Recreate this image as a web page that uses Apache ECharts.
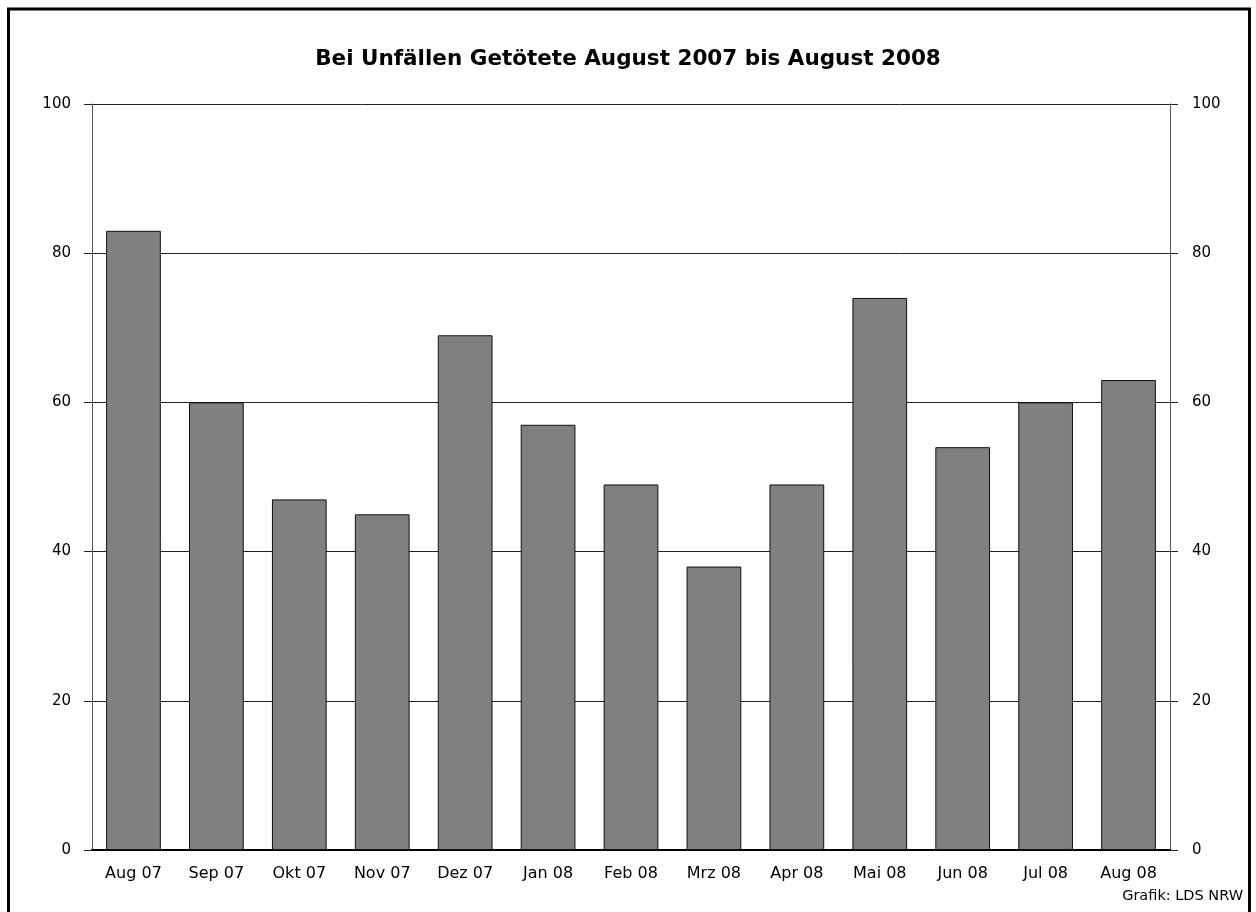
<!DOCTYPE html>
<html><head><meta charset="utf-8">
<script src="https://cdn.jsdelivr.net/npm/echarts@6/dist/echarts.min.js"></script>
<style>html,body{margin:0;padding:0;background:#fff}#c{width:1256px;height:912px}</style>
</head><body><div id="c"></div>
<script>
const categories = ['Aug 07','Sep 07','Okt 07','Nov 07','Dez 07','Jan 08','Feb 08','Mrz 08','Apr 08','Mai 08','Jun 08','Jul 08','Aug 08'];
const values = [83, 60, 47, 45, 69, 57, 49, 38, 49, 74, 54, 60, 63];
const yTicks = [0, 20, 40, 60, 80, 100];
const titleText = 'Bei Unfällen Getötete August 2007 bis August 2008';
const sourceText = 'Grafik: LDS NRW';

const font = '"DejaVu Sans", "Open Sans", sans-serif';
const chart = echarts.init(document.getElementById('c'), null, {renderer:'canvas'});
const yAxisBase = {
  type:'value', min:yTicks[0], max:yTicks[yTicks.length-1], interval:20,
  axisLine:{show:true, lineStyle:{color:'#555', width:1}},
  axisTick:{show:true, inside:false, length:8, lineStyle:{color:'#222', width:1}},
  axisLabel:{fontFamily:font, fontSize:15, color:'#000', margin:21},
};
chart.setOption({
  animation:false,
  title:{text:titleText, left:'center', top:43, textStyle:{fontFamily:font, fontWeight:'bold', fontSize:21.5, color:'#000'}},
  graphic:[
    {type:'rect', shape:{x:8.5, y:9, width:1241, height:920}, style:{fill:'none', stroke:'#000', lineWidth:3}},
    {type:'text', right:13, top:889, style:{text:sourceText, fontFamily:font, fontSize:14.5, fill:'#000'}}
  ],
  grid:{left:92, right:86, top:104, bottom:62},
  xAxis:{type:'category', data:categories,
    axisLine:{show:true, lineStyle:{color:'#000', width:2}},
    axisTick:{show:false},
    axisLabel:{fontFamily:font, fontSize:16, color:'#000', margin:16}},
  yAxis:[
    Object.assign({}, yAxisBase, {position:'left', splitLine:{show:true, lineStyle:{color:'#222', width:1}}}),
    Object.assign({}, yAxisBase, {position:'right', splitLine:{show:false}, axisLabel:Object.assign({}, yAxisBase.axisLabel, {margin:22})})
  ],
  series:[{type:'bar', data:values, barWidth:'66%', yAxisIndex:0,
    itemStyle:{color:'#808080', borderColor:'#111', borderWidth:1}}]
});
</script></body></html>
